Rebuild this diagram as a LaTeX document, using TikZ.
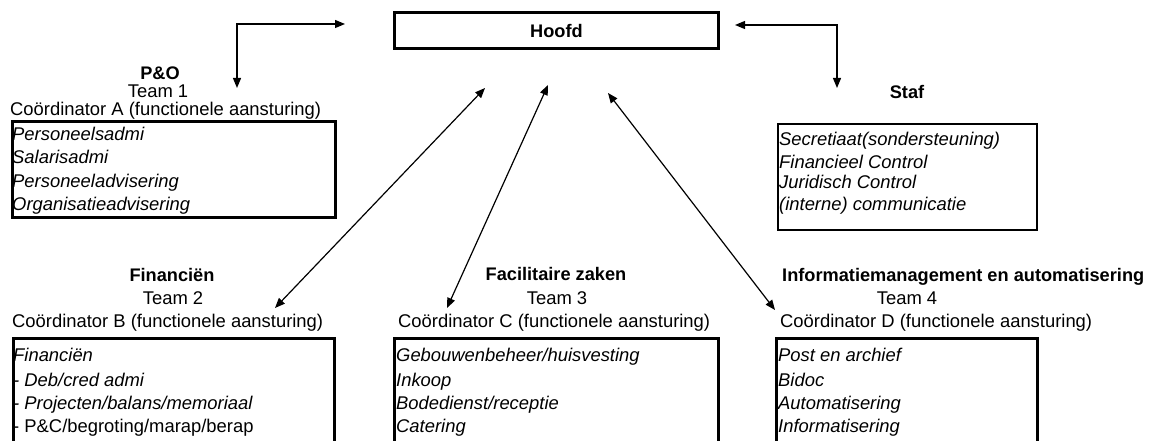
\documentclass[tikz,border=0pt]{standalone}
\usepackage{fontspec}
\setmainfont{Liberation Sans}
\usetikzlibrary{arrows.meta}
\begin{document}
\begin{tikzpicture}[x=1pt,y=-1pt,
  txt/.style={inner sep=0pt, font=\fontsize{18.4}{21}\selectfont},
  head/.style={inner sep=0pt, font=\fontsize{18.2}{21}\selectfont\bfseries},
  item/.style={inner sep=0pt, anchor=base west, font=\fontsize{18.4}{21}\selectfont\itshape},
  thickbox/.style={draw, line width=3pt, inner sep=0pt, anchor=north west},
  thinbox/.style={draw, line width=1.8pt, inner sep=0pt, anchor=north west},
  link/.style={line width=1.2pt, {Triangle[length=10pt,width=8pt]}-{Triangle[length=10pt,width=8pt]}}
]
\useasboundingbox (0,0) rectangle (1149,441);

% Hoofd
\node[thickbox, minimum width=324pt, minimum height=36pt] (hoofd) at (393,11) {};
\node[head] (hoofdtxt) at (hoofd.center) {Hoofd};

% P&O
\node[head, anchor=base] (po) at (160,80) {P\&O};
\node[txt, anchor=base] (team1) at (158,98) {Team 1};
\node[txt, anchor=base west] (coA) at (10,116) {Coördinator A (functionele aansturing)};
\node[thickbox, minimum width=323pt, minimum height=96pt] (boxA) at (11,120) {};
\node[item] (a1) at (12,141) {Personeelsadmi};
\node[item] (a2) at (12,164) {Salarisadmi};
\node[item] (a3) at (12,187) {Personeeladvisering};
\node[item] (a4) at (12,210) {Organisatieadvisering};

% Staf
\node[head, anchor=base] (staf) at (907,99) {Staf};
\node[thinbox, minimum width=259pt, minimum height=106pt] (boxS) at (777,123) {};
\node[item] (s1) at (779,146) {Secretiaat(sondersteuning)};
\node[item] (s2) at (779,168) {Financieel Control};
\node[item] (s3) at (779,189) {Juridisch Control};
\node[item] (s4) at (779,211) {(interne) communicatie};

% Financien
\node[head, anchor=base] (fin) at (172,281) {Financiën};
\node[txt, anchor=base] (team2) at (173,304) {Team 2};
\node[txt, anchor=base west] (coB) at (12,327) {Coördinator B (functionele aansturing)};
\node[thickbox, minimum width=321pt, minimum height=108pt] (boxB) at (12,337) {};
\node[item] (b1) at (13,361) {Financiën};
\node[item] (b2) at (13,386) {- Deb/cred admi};
\node[item] (b3) at (13,409) {- Projecten/balans/memoriaal};
\node[txt, anchor=base west] (b4) at (13,432) {- P\&C/begroting/marap/berap};

% Facilitaire zaken
\node[head, anchor=base] (fac) at (556,280) {Facilitaire zaken};
\node[txt, anchor=base] (team3) at (557,304) {Team 3};
\node[txt, anchor=base west] (coC) at (398,327) {Coördinator C (functionele aansturing)};
\node[thickbox, minimum width=324pt, minimum height=108pt] (boxC) at (393,337) {};
\node[item] (c1) at (396,361) {Gebouwenbeheer/huisvesting};
\node[item] (c2) at (396,386) {Inkoop};
\node[item] (c3) at (396,409) {Bodedienst/receptie};
\node[item] (c4) at (396,432) {Catering};

% Informatiemanagement
\node[head, anchor=base west] (inf) at (782,281) {Informatiemanagement en automatisering};
\node[txt, anchor=base] (team4) at (907,304) {Team 4};
\node[txt, anchor=base west] (coD) at (780,327) {Coördinator D (functionele aansturing)};
\node[thickbox, minimum width=261pt, minimum height=108pt] (boxD) at (775,337) {};
\node[item] (d1) at (778,361) {Post en archief};
\node[item] (d2) at (778,386) {Bidoc};
\node[item] (d3) at (778,409) {Automatisering};
\node[item] (d4) at (778,432) {Informatisering};

% connector end points
\coordinate (poend) at (237,88);
\coordinate (pohd) at (345,24);
\coordinate (sthd) at (735,25);
\coordinate (stend) at (837,88);
\coordinate (finend) at (275,308);
\coordinate (finhd) at (485,88);
\coordinate (facend) at (447,308);
\coordinate (fachd) at (548,85);
\coordinate (infhd) at (608,93);
\coordinate (infend) at (775,310);

\draw[link] (poend) |- (pohd);
\draw[link] (sthd) -| (stend);
\draw[link] (finend) -- (finhd);
\draw[link] (facend) -- (fachd);
\draw[link] (infhd) -- (infend);
\end{tikzpicture}
\end{document}
